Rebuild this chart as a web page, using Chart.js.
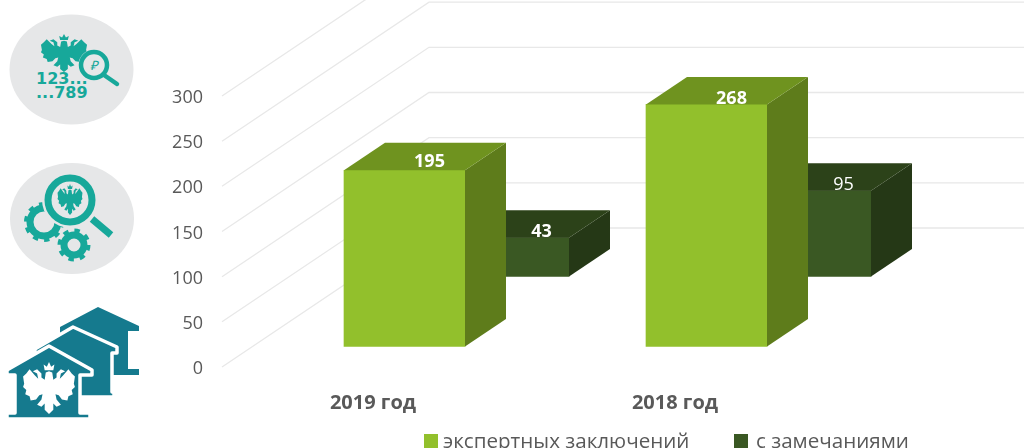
<!DOCTYPE html>
<html lang="ru">
<head>
<meta charset="utf-8">
<title>Экспертные заключения</title>
<script src="https://cdn.jsdelivr.net/npm/chart.js@4"></script>
<style>
  html, body { margin: 0; padding: 0; background: #fff; }
  #wrap { position: relative; width: 1024px; height: 448px; overflow: hidden; font-family: "Open Sans", sans-serif; }
  #chart { position: absolute; left: 0; top: 0; }
  #icons { position: absolute; left: 0; top: 0; }
  #color-legend span.sw { position: absolute; top: 434px; width: 14px; height: 14px; }
  #color-legend span.tx { position: absolute; top: 427px; font-size: 20.6px; line-height: 27px; color: #595959; white-space: nowrap; }
</style>
</head>
<body>
<div id="wrap">
  <svg id="icons" width="230" height="448" viewBox="0 0 230 448" xmlns="http://www.w3.org/2000/svg">
    <defs>
      <symbol id="eagle" viewBox="0 0 100 100" preserveAspectRatio="none">
        <path id="halfEagle" d="M50 18L44 20L42 34L36 30L36 22L28 14L20 18L28 22L30 32L24 26L14 14L8 22L2 28L4 42L2 48L8 54L6 62L14 66L16 74L26 72L32 64L38 62L36 72L28 82L36 86L42 80L42 92L50 100Z"/>
        <use href="#halfEagle" transform="translate(100,0) scale(-1,1)"/>
        <path d="M42 16L58 16L60 5L54 9L50 0L46 9L40 5Z"/>
      </symbol>
    </defs>

    <!-- top icon -->
    <ellipse cx="71.5" cy="69.5" rx="62" ry="55" fill="#e6e7e8"/>
    <use href="#eagle" x="40" y="34" width="48" height="38" fill="#17a89a"/>
    <circle cx="94" cy="65" r="15.5" fill="#e6e7e8"/>
    <circle cx="94" cy="65" r="13" fill="#e6e7e8" stroke="#17a89a" stroke-width="4.5"/>
    <path d="M104 75L117 84" stroke="#17a89a" stroke-width="4.5" stroke-linecap="round"/>
    <text x="94" y="70" text-anchor="middle" font-family="Open Sans" font-size="13" font-style="italic" fill="#17a89a">₽</text>
    <text x="36" y="84" font-family="DejaVu Sans" font-weight="700" font-size="16" fill="#17a89a">123...</text>
    <text x="36" y="98" font-family="DejaVu Sans" font-weight="700" font-size="16" fill="#17a89a">...789</text>

    <!-- middle icon -->
    <ellipse cx="72" cy="218.5" rx="62" ry="55.5" fill="#e6e7e8"/>
    <circle cx="44" cy="222" r="14" fill="none" stroke="#17a89a" stroke-width="7"/>
    <circle cx="44" cy="222" r="17" fill="none" stroke="#17a89a" stroke-width="6" stroke-dasharray="5 5.7"/>
    <circle cx="70" cy="200" r="28" fill="#e6e7e8"/>
    <circle cx="70" cy="200" r="22" fill="#e6e7e8" stroke="#17a89a" stroke-width="7"/>
    <path d="M92 219L111 235" stroke="#17a89a" stroke-width="7"/>
    <use href="#eagle" x="57" y="184" width="26" height="31" fill="#17a89a"/>
    <circle cx="74" cy="245" r="10" fill="none" stroke="#17a89a" stroke-width="7"/>
    <circle cx="74" cy="245" r="13.5" fill="none" stroke="#17a89a" stroke-width="6" stroke-dasharray="5 5.6"/>

    <!-- houses -->
    <g fill="#157a8e" stroke="#fff" stroke-width="3.5" stroke-linejoin="round">
      <path d="M98 307L139 326V331H128V369H139V375H100V340H60V327Z" stroke="none"/>
      <path d="M73 327L117 347V353H112V392H114V397H70V360H35V349Z"/>
      <path d="M49 346L92 370V375H80V413H90V419H7V413H15V375H7V370Z"/>
    </g>
    <use href="#eagle" x="22" y="362" width="54" height="52" fill="#fff"/>
  </svg>

  <canvas id="chart" width="1024" height="448"></canvas>
  <div id="color-legend"></div>
</div>

<script>
const categories = ['2019 год', '2018 год'];
const seriesNames = ['экспертных заключений', 'с замечаниями'];
const conclusions = [195, 268];
const withRemarks = [43, 95];

const frontColors = ['#92c02c', '#3a5823'];
const topColors = ['#6f931f', '#2c4219'];
const sideColors = ['#5e7c1b', '#253816'];

// the picture is a fake 3d one, so every series sits a bit deeper than the axis plane
const seriesShift = [{ x: 31.5, y: -20.5 }, { x: 135.5, y: -90.5 }];
const depth = { x: 41, y: -27.5 };
const wall = { x: 207, y: -139 };
const labelOffset = [25, 33];
const labelLift = [[8, 6], [6, 6]];
const gridColor = '#e8e8e8';
const legendAt = [424, 734];
const legendGap = [19, 22];

const legendBox = document.getElementById('color-legend');
seriesNames.forEach((name, i) => {
    const sw = document.createElement('span');
    sw.className = 'sw';
    sw.style.left = legendAt[i] + 'px';
    sw.style.background = frontColors[i];
    const tx = document.createElement('span');
    tx.className = 'tx';
    tx.style.left = (legendAt[i] + legendGap[i]) + 'px';
    tx.textContent = name;
    legendBox.appendChild(sw);
    legendBox.appendChild(tx);
});

function face(ctx, color, pts) {
    ctx.fillStyle = color;
    ctx.beginPath();
    ctx.moveTo(pts[0][0], pts[0][1]);
    pts.slice(1).forEach(p => ctx.lineTo(p[0], p[1]));
    ctx.closePath();
    ctx.fill();
}

const wallGrid = {
    id: 'wallGrid',
    beforeDraw(chart) {
        // Open Sans digits sit high on the middle baseline, push the y labels down
        chart.scales.y.getLabelItems().forEach(item => {
            if (!item.moved) {
                item.options.translation[1] += 2;
                item.moved = true;
            }
        });
    },
    beforeDatasetsDraw(chart) {
        const ctx = chart.ctx;
        const yScale = chart.scales.y;
        const left = chart.chartArea.left;
        ctx.save();
        ctx.strokeStyle = gridColor;
        ctx.lineWidth = 1.3;
        yScale.ticks.forEach(t => {
            const py = yScale.getPixelForValue(t.value);
            ctx.beginPath();
            ctx.moveTo(left, py);
            ctx.lineTo(left + wall.x, py + wall.y);
            ctx.lineTo(chart.width, py + wall.y);
            ctx.stroke();
        });
        ctx.restore();
    }
};

const fakeDepth = {
    id: 'fakeDepth',
    beforeDatasetDraw(chart, args) {
        const s = seriesShift[args.index];
        chart.ctx.save();
        chart.ctx.translate(s.x, s.y);
    },
    afterDatasetDraw(chart, args) {
        const ctx = chart.ctx;
        const i = args.index;
        chart.getDatasetMeta(i).data.forEach((bar, n) => {
            const l = bar.x - bar.width / 2;
            const r = bar.x + bar.width / 2;
            face(ctx, sideColors[i], [[r, bar.y], [r + depth.x, bar.y + depth.y], [r + depth.x, bar.base + depth.y], [r, bar.base]]);
            face(ctx, topColors[i], [[l, bar.y], [l + depth.x, bar.y + depth.y], [r + depth.x, bar.y + depth.y], [r, bar.y]]);
            // only the 95 is not bold in the reference
            ctx.font = (chart.data.datasets[i].data[n] === 95 ? '400' : '700') + ' 18px "Open Sans"';
            ctx.fillStyle = '#fff';
            ctx.textAlign = 'center';
            ctx.textBaseline = 'middle';
            ctx.fillText(chart.data.datasets[i].data[n], bar.x + labelOffset[i], bar.y - labelLift[i][n]);
        });
        ctx.restore();
    }
};

new Chart(document.getElementById('chart'), {
    type: 'bar',
    data: {
        labels: categories,
        datasets: [
            { label: seriesNames[0], data: conclusions, backgroundColor: frontColors[0], barThickness: 121, grouped: false, clip: false },
            { label: seriesNames[1], data: withRemarks, backgroundColor: frontColors[1], barThickness: 121, grouped: false, clip: false }
        ]
    },
    options: {
        responsive: false,
        animation: false,
        devicePixelRatio: 1,
        layout: { padding: { top: 96, right: 198, left: 0, bottom: 0 } },
        plugins: { legend: { display: false }, tooltip: { enabled: false } },
        scales: {
            x: {
                grid: { display: false },
                border: { display: false },
                afterFit: s => { s.height = 81; },
                ticks: { padding: 16, color: '#595959', font: { family: 'Open Sans', size: 20, weight: '700' } }
            },
            y: {
                min: 0,
                max: 300,
                grid: { display: false, drawTicks: false },
                border: { display: false },
                afterFit: s => { s.width = 222; },
                ticks: { stepSize: 50, padding: 19, color: '#595959', font: { family: 'Open Sans', size: 18 } }
            }
        }
    },
    plugins: [wallGrid, fakeDepth]
});
</script>
</body>
</html>
